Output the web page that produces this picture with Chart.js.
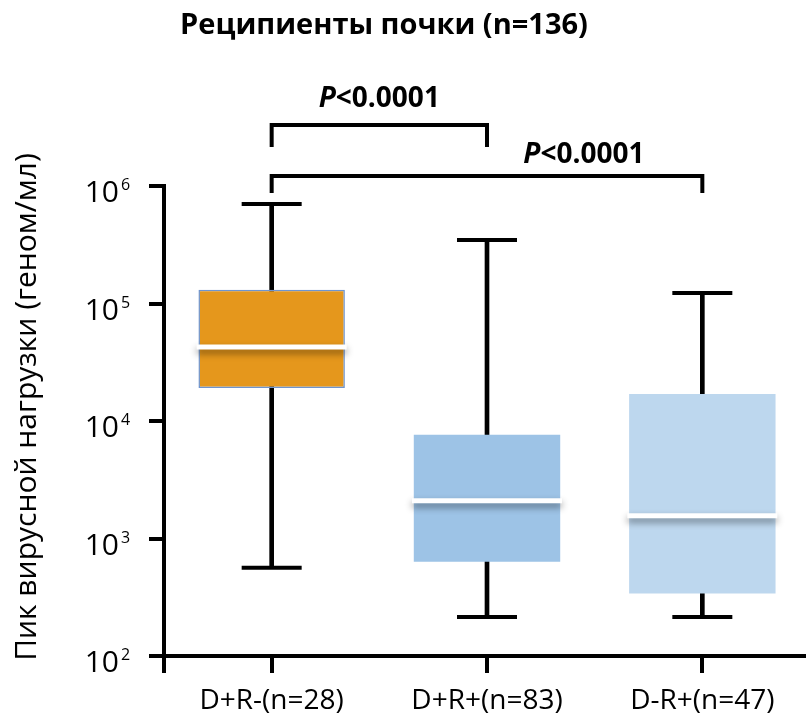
<!DOCTYPE html>
<html>
<head>
<meta charset="utf-8">
<script src="https://cdn.jsdelivr.net/npm/chart.js@4.4.1/dist/chart.umd.min.js"></script>
<style>
  html, body { margin: 0; padding: 0; background: #fff; overflow: hidden; }
  canvas { display: block; }
</style>
</head>
<body>
<canvas id="boxChart" width="810" height="728"></canvas>
<script>
const categories = ['D+R-(n=28)', 'D+R+(n=83)', 'D-R+(n=47)'];
const whiskerLow = [565, 215, 215];
const q1 = [19100, 635, 340];
const median = [42700, 2100, 1560];
const q3 = [131000, 7630, 17000];
const whiskerHigh = [703000, 347000, 123000];
const boxColours = ['#E5971C', '#9DC3E6', '#BDD7EE'];

const yTickValues = [100, 1000, 10000, 100000, 1000000];
const yTickExponents = ['2', '3', '4', '5', '6'];

const chartTitle = 'Реципиенты почки (n=136)';
const yAxisTitle = 'Пик вирусной нагрузки (геном/мл)';

// significance brackets between groups
const bracketFrom = [0, 0];
const bracketTo = [1, 2];
const bracketLabelAt = [0.5, 1.45];
const bracketText = ['<0.0001', '<0.0001'];

const FONT = "'Open Sans', 'DejaVu Sans', sans-serif";
Chart.defaults.font.family = FONT;
Chart.defaults.color = '#000';

// shadow under the median line + all the extra text
const extrasPlugin = {
    id: 'extras',
    beforeDatasetDraw(chart, args) {
        if (args.index !== 3) return;
        const ctx = chart.ctx;
        ctx.save();
        ctx.shadowColor = 'rgba(0,0,0,0.45)';
        ctx.shadowBlur = 7;
        ctx.shadowOffsetY = 4;
    },
    afterDatasetDraw(chart, args) {
        if (args.index !== 3) return;
        chart.ctx.restore();
    },
    afterDraw(chart) {
        const { ctx, chartArea } = chart;
        const xScale = chart.scales.x;
        const yScale = chart.scales.y;
        ctx.save();
        ctx.fillStyle = '#000';
        ctx.strokeStyle = '#000';

        // y axis runs a bit below the x axis
        ctx.lineWidth = 4;
        ctx.beginPath();
        ctx.moveTo(chartArea.left, chartArea.bottom);
        ctx.lineTo(chartArea.left, chartArea.bottom + 17);
        ctx.stroke();

        // title
        ctx.font = `bold 29px ${FONT}`;
        ctx.textAlign = 'center';
        ctx.textBaseline = 'alphabetic';
        ctx.fillText(chartTitle, 384, 34);

        // y title
        ctx.save();
        ctx.translate(27, 407);
        ctx.rotate(-Math.PI / 2);
        ctx.font = `30px ${FONT}`;
        ctx.textBaseline = 'middle';
        ctx.fillText(yAxisTitle, 0, 0);
        ctx.restore();

        // y tick labels as 10 with superscript
        yTickValues.forEach((v, i) => {
            const y = yScale.getPixelForValue(v);
            ctx.font = `30px ${FONT}`;
            ctx.textAlign = 'right';
            ctx.fillText('10', 119, y + 16);
            ctx.font = `16px ${FONT}`;
            ctx.textAlign = 'left';
            ctx.fillText(yTickExponents[i], 121, y + 4);
        });

        // brackets
        const rise = [61, 10];
        const leg = [22, 17];
        const textUp = [18, 13];
        bracketFrom.forEach((from, i) => {
            const x1 = xScale.getPixelForValue(from);
            const x2 = xScale.getPixelForValue(bracketTo[i]);
            const yb = chartArea.top - rise[i];
            ctx.lineWidth = 4;
            ctx.beginPath();
            ctx.moveTo(x1, yb + leg[i]);
            ctx.lineTo(x1, yb);
            ctx.lineTo(x2, yb);
            ctx.lineTo(x2, yb + leg[i]);
            ctx.stroke();

            const cx = xScale.getPixelForValue(bracketLabelAt[i]);
            const ty = yb - textUp[i];
            ctx.font = `italic bold 28px ${FONT}`;
            const wP = ctx.measureText('P').width;
            ctx.font = `bold 28px ${FONT}`;
            const wRest = ctx.measureText(bracketText[i]).width;
            const x0 = cx - (wP + wRest) / 2;
            ctx.textAlign = 'left';
            ctx.font = `italic bold 28px ${FONT}`;
            ctx.fillText('P', x0, ty);
            ctx.font = `bold 28px ${FONT}`;
            ctx.fillText(bracketText[i], x0 + wP, ty);
        });
        ctx.restore();
    }
};

const ctx = document.getElementById('boxChart').getContext('2d');
new Chart(ctx, {
    data: {
        labels: categories,
        datasets: [
            {
                // whisker stems
                type: 'bar',
                data: whiskerLow.map((v, i) => [v, whiskerHigh[i]]),
                backgroundColor: '#000',
                barThickness: 4,
                grouped: false,
                order: 4
            },
            {
                // boxes
                type: 'bar',
                data: q1.map((v, i) => [v, q3[i]]),
                backgroundColor: boxColours,
                borderColor: ['#6F95CF', 'rgba(0,0,0,0)', 'rgba(0,0,0,0)'],
                borderWidth: [1.5, 0, 0],
                borderSkipped: false,
                barPercentage: 0.68,
                categoryPercentage: 1,
                grouped: false,
                order: 3
            },
            {
                // whisker caps
                type: 'line',
                data: whiskerHigh,
                showLine: false,
                pointStyle: 'line',
                pointRadius: 30,
                pointBorderWidth: 4,
                pointBorderColor: '#000',
                order: 2
            },
            {
                // median
                type: 'line',
                data: median,
                showLine: false,
                pointStyle: 'line',
                pointRadius: 75,
                pointBorderWidth: 5,
                pointBorderColor: '#fff',
                order: 1
            },
            {
                type: 'line',
                data: whiskerLow,
                showLine: false,
                pointStyle: 'line',
                pointRadius: 30,
                pointBorderWidth: 4,
                pointBorderColor: '#000',
                order: 2
            }
        ]
    },
    options: {
        responsive: false,
        animation: false,
        events: [],
        layout: { autoPadding: false, padding: { top: 186, left: 0, right: 0, bottom: 0 } },
        plugins: {
            legend: { display: false },
            tooltip: { enabled: false }
        },
        scales: {
            x: {
                type: 'category',
                offset: true,
                grid: {
                    offset: false,
                    drawOnChartArea: false,
                    drawTicks: true,
                    tickLength: 17,
                    lineWidth: 4,
                    color: '#000'
                },
                border: { color: '#000', width: 4 },
                ticks: {
                    font: { size: 28 },
                    color: '#000',
                    padding: 11,
                    maxRotation: 0
                },
                afterFit: scale => { scale.height = 72; }
            },
            y: {
                type: 'logarithmic',
                min: 100,
                max: 1000000,
                afterBuildTicks: scale => {
                    scale.ticks = yTickValues.map(v => ({ value: v, major: true }));
                },
                grid: {
                    drawOnChartArea: false,
                    drawTicks: true,
                    tickLength: 15,
                    lineWidth: 4,
                    color: '#000'
                },
                border: { color: '#000', width: 4 },
                ticks: { display: false },
                afterFit: scale => { scale.width = 164; }
            }
        }
    },
    plugins: [extrasPlugin]
});
</script>
</body>
</html>
